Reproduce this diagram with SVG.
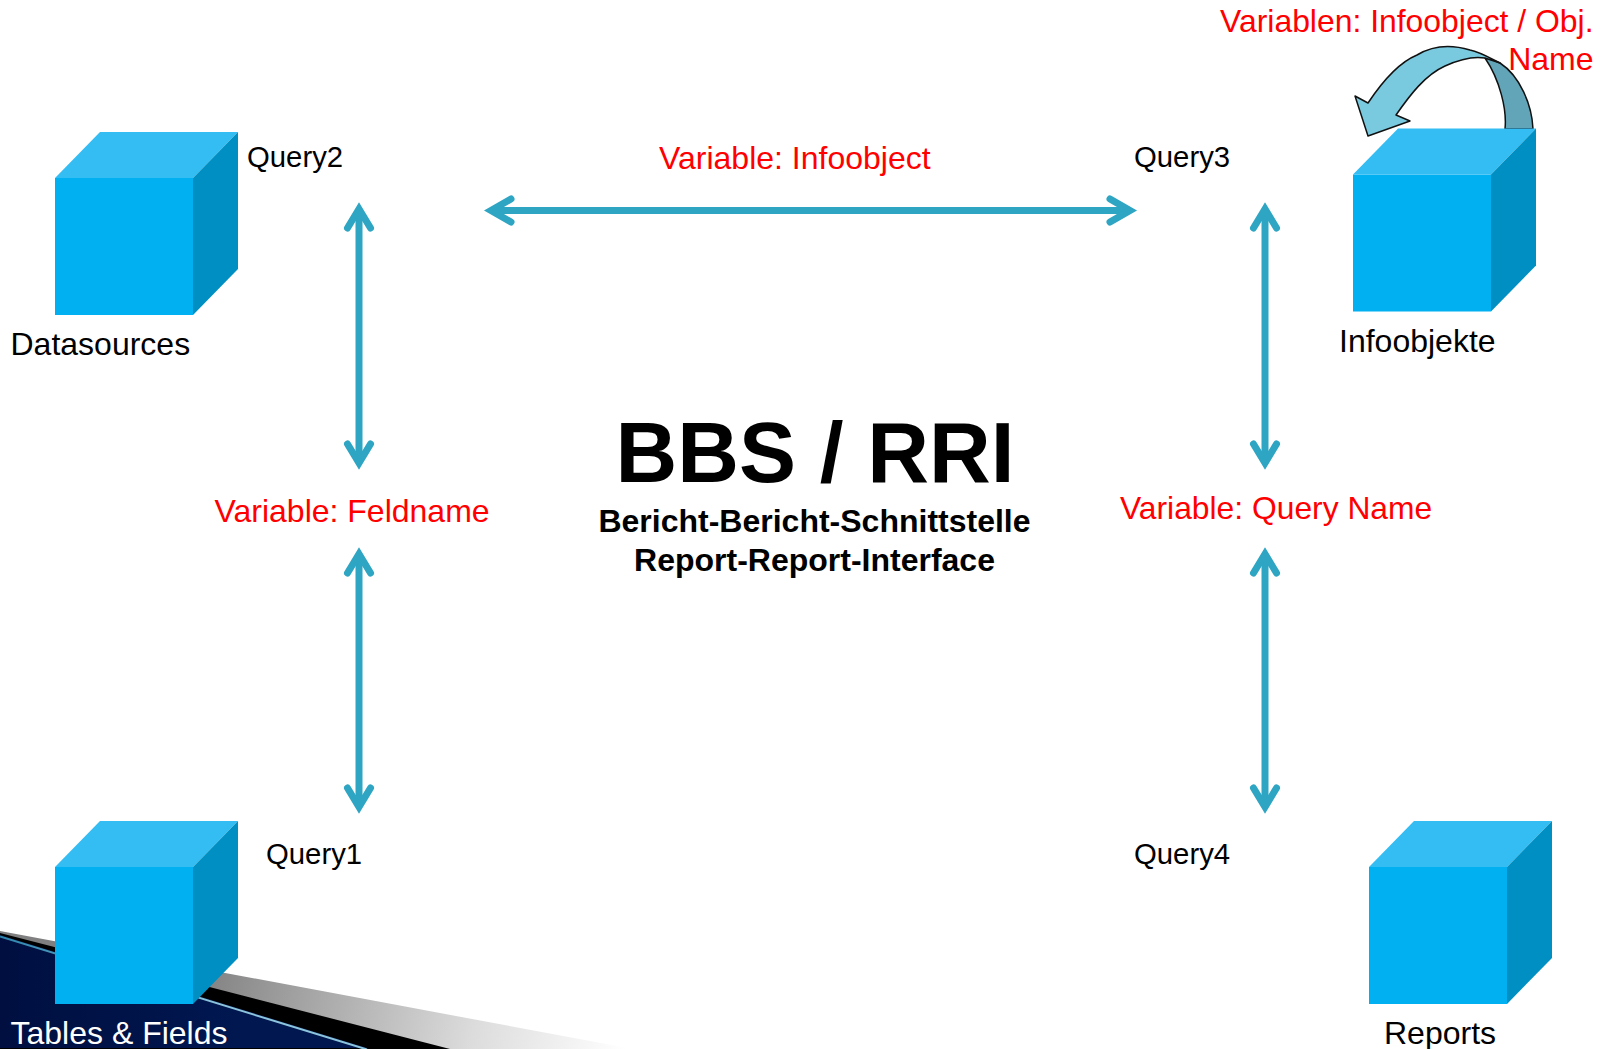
<svg xmlns="http://www.w3.org/2000/svg" width="1602" height="1049" viewBox="0 0 1602 1049">
<style>
text{font-family:"Liberation Sans",Arial,sans-serif}
.q{font-size:29.3px;fill:#000}
.l{font-size:32px;fill:#000}
.r{font-size:32px;fill:#f00}
.b{font-weight:bold;fill:#000}
.f{fill:#00b0f0}.t{fill:#33bdf3}.s{fill:#008fc3}
.c{fill:none;stroke:#2ea5c3;stroke-width:7}
.h{fill:none;stroke:#2ea5c3;stroke-width:7;stroke-linecap:round;stroke-linejoin:miter}
</style>
<defs>
<linearGradient id="g" gradientUnits="userSpaceOnUse" x1="200" y1="960" x2="625" y2="1049"><stop offset="0" stop-color="#808080"/><stop offset=".65" stop-color="#dcdcdc"/><stop offset="1" stop-color="#fff"/></linearGradient>
<linearGradient id="n" gradientUnits="userSpaceOnUse" x1="0" y1="0" x2="240" y2="0"><stop offset="0" stop-color="#000f40"/><stop offset="1" stop-color="#001750"/></linearGradient>
<linearGradient id="e" gradientUnits="userSpaceOnUse" x1="0" y1="936" x2="367" y2="1049"><stop offset="0" stop-color="#2f86ad"/><stop offset=".6" stop-color="#8cc4dc"/></linearGradient>
<g id="cube"><rect class="f" x="0" y="46" width="138" height="137"/><path class="t" d="M0 46L45 0H183L138 46Z"/><path class="s" d="M138 46L183 0V137L138 183Z"/></g>
</defs>
<rect width="1602" height="1049" fill="#fff"/>
<g id="corner">
<path d="M0 931L633 1049H0Z" fill="url(#g)"/>
<path d="M0 933L450 1049H0Z" fill="#000"/>
<path d="M0 935L367 1048H0Z" fill="url(#n)"/>
<path d="M0 936.500L367 1049.500" fill="none" stroke="url(#e)" stroke-width="2"/>
</g>
<g id="connectors">
<path class="c" d="M359 211V462M359 555V806M1265 211V462M1265 555V806M493 210.500H1126"/>
<path class="h" d="M347.500 228L359 209L370.500 228M347.500 444L359 463L370.500 444M347.500 573L359 554L370.500 573M347.500 788L359 807L370.500 788M1253.500 228L1265 209L1276.500 228M1253.500 444L1265 463L1276.500 444M1253.500 573L1265 554L1276.500 573M1253.500 788L1265 807L1276.500 788M511 199L491 210.500L511 222M1110 199L1130 210.500L1110 222"/>
</g>
<g id="self-loop">
<path d="M1505 129C1507 110 1500 80 1485 58C1490 59 1496 61 1500 63C1520 76 1532 105 1533 129Z" fill="#63a5b8" stroke="#111" stroke-width="1.500"/>
<path d="M1500 63C1490 58 1480 52 1470 50C1450 44 1432 46 1417 55C1400 62 1382 82 1368 103L1355 96L1368 136L1410 121L1396 115C1410 95 1425 75 1445 66C1458 60 1473 56 1485 58Z" fill="#79c9df" stroke="#111" stroke-width="1.500" stroke-linejoin="round"/>
</g>
<g id="datasources"><use href="#cube" x="55" y="132"/><text class="l" x="10.500" y="355">Datasources</text></g>
<g id="infoobjekte"><use href="#cube" x="1353" y="128.500"/><text class="l" x="1339" y="352">Infoobjekte</text></g>
<g id="tables"><use href="#cube" x="55" y="821"/><text class="l" x="10.500" y="1044" style="fill:#fff">Tables &amp; Fields</text></g>
<g id="reports"><use href="#cube" x="1369" y="821"/><text class="l" x="1384" y="1044">Reports</text></g>
<g id="labels">
<text class="q" x="247" y="167">Query2</text>
<text class="q" x="1134" y="167">Query3</text>
<text class="q" x="266" y="864">Query1</text>
<text class="q" x="1134" y="864">Query4</text>
<text class="r" x="659" y="169">Variable: Infoobject</text>
<text class="r" x="214.500" y="522">Variable: Feldname</text>
<text class="r" x="1120" y="519" style="font-size:31.8px">Variable: Query Name</text>
<text class="r" x="1593.500" y="32" text-anchor="end" style="font-size:31.9px">Variablen: Infoobject / Obj.</text>
<text class="r" x="1593.500" y="70" text-anchor="end">Name</text>
<text class="b" x="815" y="482" font-size="85.500" text-anchor="middle">BBS / RRI</text>
<text class="b" x="814.500" y="532" font-size="32" text-anchor="middle">Bericht-Bericht-Schnittstelle</text>
<text class="b" x="814.500" y="571" font-size="32" text-anchor="middle">Report-Report-Interface</text>
</g>
</svg>
